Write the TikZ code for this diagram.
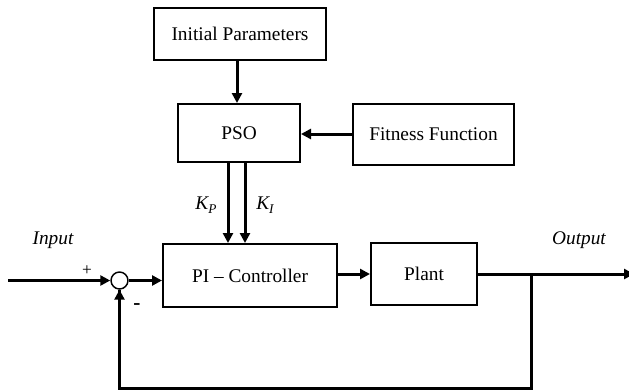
\documentclass[tikz,border=0pt]{standalone}
\usepackage{fontspec}
\setmainfont{Liberation Serif}
\usetikzlibrary{arrows.meta}
\begin{document}
\begin{tikzpicture}[x=0.75pt,y=-0.75pt,
  block/.style={draw=black,line width=1.5pt,fill=white,inner sep=0pt,
    font=\fontsize{14.5}{17}\selectfont},
  sumnode/.style={draw=black,line width=1.1pt,circle,minimum size=12.75pt,inner sep=0pt},
  flow/.style={line width=2.25pt,-{Triangle[length=7.5pt,width=7.5pt]}},
  wire/.style={line width=2.25pt},
  lbl/.style={font=\fontsize{14.5}{17}\selectfont\itshape,inner sep=0pt}]
\useasboundingbox (0,0) rectangle (629,390);

% blocks
\node[block,minimum width=129pt,minimum height=39pt] (ip) at (240,34) {Initial Parameters};
\node[block,minimum width=91.5pt,minimum height=43.5pt] (pso) at (239,133) {PSO};
\node[block,minimum width=120.75pt,minimum height=45.75pt] (ff) at (433.5,134.5) {Fitness Function};
\node[block,minimum width=130.5pt,minimum height=47.25pt] (pi) at (250,275.5) {PI -- Controller};
\node[block,minimum width=79.5pt,minimum height=46.5pt] (plant) at (424,274) {Plant};
\node[sumnode] (sum) at (119.5,280.5) {};

% free ends
\coordinate (in) at (8,280.5);
\coordinate (out) at (634,274);
\coordinate (tap) at (531,274);
\coordinate (fb) at (531,388);

% optimiser links
\draw[flow] (ip.south -| 237,0) -- (237,0 |- pso.north);
\draw[flow] (ff.west |- 0,134) -- (pso.east |- 0,134);
\draw[flow] (pso.south -| 228,0) -- (228,0 |- pi.north);
\draw[flow] (pso.south -| 245,0) -- (245,0 |- pi.north);

% control loop
\draw[flow] (in) -- (sum.west);
\draw[flow] (sum.east) -- (pi.west |- sum.east);
\draw[flow] (pi.east |- plant.west) -- (plant.west);
\draw[flow] (plant.east) -- (out);
\draw[wire] (tap) -- (fb) -| (sum.south);
\draw[flow] (119.5,300) -- (sum.south);

% labels
\node[lbl] at (53,240) {Input};
\node[lbl] at (579,240) {Output};
\node[font=\fontsize{13}{15}\selectfont,inner sep=0pt] at (87,271) {+};
\node[font=\fontsize{16}{18}\selectfont\bfseries,inner sep=0pt] at (137,307) {-};
\node[lbl] at (206,205) {K\raisebox{-0.45ex}{\fontsize{10}{12}\selectfont P}};
\node[lbl] at (265,205) {K\raisebox{-0.45ex}{\fontsize{10}{12}\selectfont I}};
\end{tikzpicture}
\end{document}
